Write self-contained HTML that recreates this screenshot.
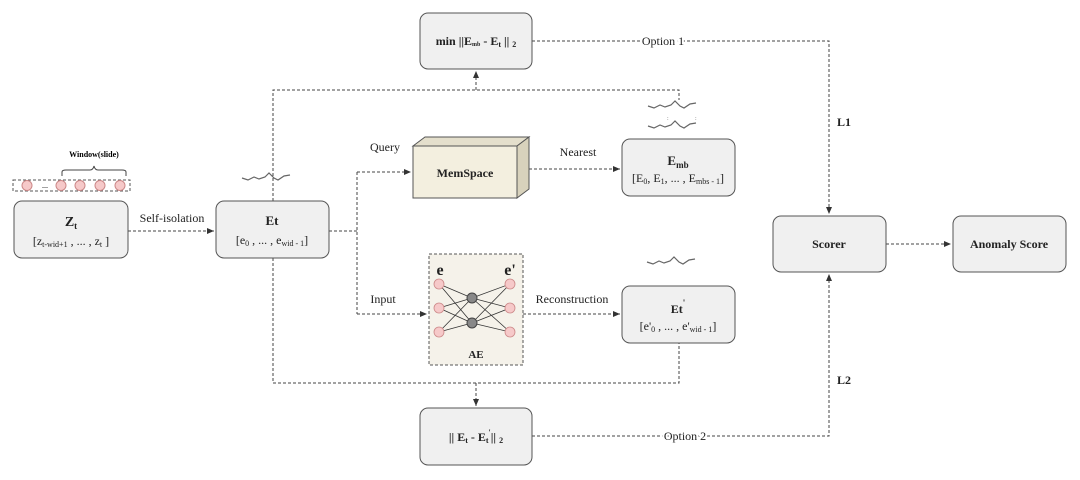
<!DOCTYPE html>
<html><head><meta charset="utf-8"><style>
html,body{margin:0;padding:0;background:#fff;}
svg{display:block;font-family:"Liberation Serif",serif;}
</style></head><body>
<svg width="1080" height="480" viewBox="0 0 1080 480" xmlns="http://www.w3.org/2000/svg">
<defs>
<marker id="a" markerWidth="8" markerHeight="8" refX="7" refY="4" orient="auto" markerUnits="userSpaceOnUse"><path d="M0,1 L7,4 L0,7 Z" fill="#333"/></marker>
</defs>
<g fill="none" stroke="#444" stroke-width="1" stroke-dasharray="3,2">
<path d="M128,231 H214" marker-end="url(#a)"/>
<path d="M329,231 H357 M357,172 V314"/>
<path d="M357,172 H411" marker-end="url(#a)"/>
<path d="M357,314 H427" marker-end="url(#a)"/>
<path d="M529,169 H620" marker-end="url(#a)"/>
<path d="M523,314 H620" marker-end="url(#a)"/>
<path d="M273,201 V90 H679 V100"/>
<path d="M476,90 V71" marker-end="url(#a)"/>
<path d="M273,258 V383 H679 V343"/>
<path d="M476,383 V406" marker-end="url(#a)"/>
<path d="M532,41 H829 V214" marker-end="url(#a)"/>
<path d="M532,436 H829 V274" marker-end="url(#a)"/>
<path d="M886,244 H951" marker-end="url(#a)"/>
</g>
<g fill="#f0f0f0" stroke="#555" stroke-width="1">
<rect x="14" y="201" width="114" height="57" rx="8"/>
<rect x="216" y="201" width="113" height="57" rx="8"/>
<rect x="420" y="13" width="112" height="56" rx="8"/>
<rect x="622" y="139" width="113" height="57" rx="8"/>
<rect x="622" y="286" width="113" height="57" rx="8"/>
<rect x="420" y="408" width="112" height="57" rx="8"/>
<rect x="773" y="216" width="113" height="56" rx="8"/>
<rect x="953" y="216" width="113" height="56" rx="8"/>
</g>
<!-- MemSpace cube -->
<g stroke="#555" stroke-width="1">
<path d="M413,146 L425,137 L529,137 L517,146 Z" fill="#e4dfcc"/>
<path d="M517,146 L529,137 L529,189 L517,198 Z" fill="#d8d2bc"/>
<rect x="413" y="146" width="104" height="52" fill="#f3efdf"/>
</g>
<!-- AE -->
<rect x="429" y="254" width="94" height="111" fill="#f5f2ea" stroke="#555" stroke-dasharray="3,2"/>
<g stroke="#333" stroke-width="0.8">
<path d="M439,284 L472,298 M439,284 L472,323 M439,308 L472,298 M439,308 L472,323 M439,332 L472,298 M439,332 L472,323 M472,298 L510,284 M472,298 L510,308 M472,298 L510,332 M472,323 L510,284 M472,323 L510,308 M472,323 L510,332"/>
</g>
<g fill="#f6c9c9" stroke="#c88" stroke-width="0.8">
<circle cx="439" cy="284" r="5"/><circle cx="439" cy="308" r="5"/><circle cx="439" cy="332" r="5"/>
<circle cx="510" cy="284" r="5"/><circle cx="510" cy="308" r="5"/><circle cx="510" cy="332" r="5"/>
</g>
<circle cx="472" cy="298" r="5" fill="#888" stroke="#444"/><circle cx="472" cy="323" r="5" fill="#888" stroke="#444"/>
<!-- window -->
<rect x="13" y="180" width="117" height="11" fill="#fff" stroke="#555" stroke-dasharray="3,2"/>
<g fill="#f6c9c9" stroke="#c88"><circle cx="27" cy="185.5" r="5"/><circle cx="61" cy="185.5" r="5"/><circle cx="80" cy="185.5" r="5"/><circle cx="100" cy="185.5" r="5"/><circle cx="120" cy="185.5" r="5"/></g>
<text x="42" y="188" font-size="8">...</text>
<path d="M62,176 V172 Q62,170 66,170 H90 Q93,170 94,166 Q95,170 98,170 H122 Q126,170 126,172 V176" fill="none" stroke="#444"/>
<text x="94" y="157" font-size="8" font-weight="bold" text-anchor="middle">Window(slide)</text>
<!-- waves -->
<g fill="none" stroke="#666" stroke-width="1.2">
<path d="M242,178 l6,2 6,-3 5,2 6,-2 4,-4 5,5 4,2 6,-4 6,-1"/>
<path d="M647,262 l6,2 6,-3 5,2 6,-2 4,-4 5,5 4,2 6,-4 6,-1"/>
<path d="M648,106 l6,2 6,-3 5,2 6,-2 4,-4 5,5 4,2 6,-4 6,-1"/>
<path d="M648,126 l6,2 6,-3 5,2 6,-2 4,-4 5,5 4,2 6,-4 6,-1"/>
</g>
<text x="667" y="120" font-size="6" fill="#666">:</text><text x="695" y="120" font-size="6" fill="#666">:</text>
<!-- labels -->
<g font-size="12" fill="#222">
<text x="172" y="222" text-anchor="middle">Self-isolation</text>
<text x="385" y="151" text-anchor="middle">Query</text>
<text x="383" y="303" text-anchor="middle">Input</text>
<text x="578" y="156" text-anchor="middle">Nearest</text>
<text x="572" y="303" text-anchor="middle">Reconstruction</text>
<text x="663" y="45" text-anchor="middle" style="paint-order:stroke" stroke="#fff" stroke-width="4">Option 1</text>
<text x="685" y="440" text-anchor="middle" style="paint-order:stroke" stroke="#fff" stroke-width="4">Option 2</text>
</g>
<g font-weight="bold" fill="#222">
<text x="71" y="226" font-size="14" text-anchor="middle">Z<tspan font-size="9" dy="3">t</tspan></text>
<text x="71" y="245" font-size="12" font-weight="normal" text-anchor="middle">[z<tspan font-size="8" dy="2">t-wid+1</tspan><tspan dy="-2"> , ... , z</tspan><tspan font-size="8" dy="2">t</tspan><tspan dy="-2"> ]</tspan></text>
<text x="272" y="225" font-size="13" text-anchor="middle">Et</text>
<text x="272" y="244" font-size="12" font-weight="normal" text-anchor="middle">[e<tspan font-size="8" dy="2">0</tspan><tspan dy="-2"> , ... , e</tspan><tspan font-size="8" dy="2">wid - 1</tspan><tspan dy="-2">]</tspan></text>
<text x="476" y="45" font-size="12" text-anchor="middle">min ||E<tspan font-size="6" dy="1">mb</tspan><tspan dy="-1"> - E</tspan><tspan font-size="8" dy="2">t</tspan><tspan dy="-2"> || </tspan><tspan font-size="8" dy="2">2</tspan></text>
<text x="465" y="177" font-size="12" text-anchor="middle">MemSpace</text>
<text x="678" y="165" font-size="13" text-anchor="middle">E<tspan font-size="9" dy="3">mb</tspan></text>
<text x="678" y="182" font-size="12" font-weight="normal" text-anchor="middle">[E<tspan font-size="8" dy="2">0</tspan><tspan dy="-2">,  E</tspan><tspan font-size="8" dy="2">1</tspan><tspan dy="-2">,   ... ,    E</tspan><tspan font-size="8" dy="2">mbs - 1</tspan><tspan dy="-2">]</tspan></text>
<text x="440" y="275" font-size="16" text-anchor="middle">e</text>
<text x="510" y="275" font-size="16" text-anchor="middle">e'</text>
<text x="476" y="358" font-size="11" text-anchor="middle">AE</text>
<text x="678" y="313" font-size="12" text-anchor="middle">Et<tspan font-size="9" dy="-7">'</tspan></text>
<text x="678" y="330" font-size="12" font-weight="normal" text-anchor="middle">[e'<tspan font-size="8" dy="2">0</tspan><tspan dy="-2"> , ... , e'</tspan><tspan font-size="8" dy="2">wid - 1</tspan><tspan dy="-2">]</tspan></text>
<text x="476" y="441" font-size="12" text-anchor="middle">|| E<tspan font-size="8" dy="2">t</tspan><tspan dy="-2"> - E</tspan><tspan font-size="8" dy="2">t</tspan><tspan font-size="8" dy="-8">'</tspan><tspan dy="6">|| </tspan><tspan font-size="8" dy="2">2</tspan></text>
<text x="829" y="248" font-size="12" text-anchor="middle">Scorer</text>
<text x="1009" y="248" font-size="12" text-anchor="middle">Anomaly Score</text>
<text x="837" y="126" font-size="12">L1</text>
<text x="837" y="384" font-size="12">L2</text>
</g>
</svg>
</body></html>
